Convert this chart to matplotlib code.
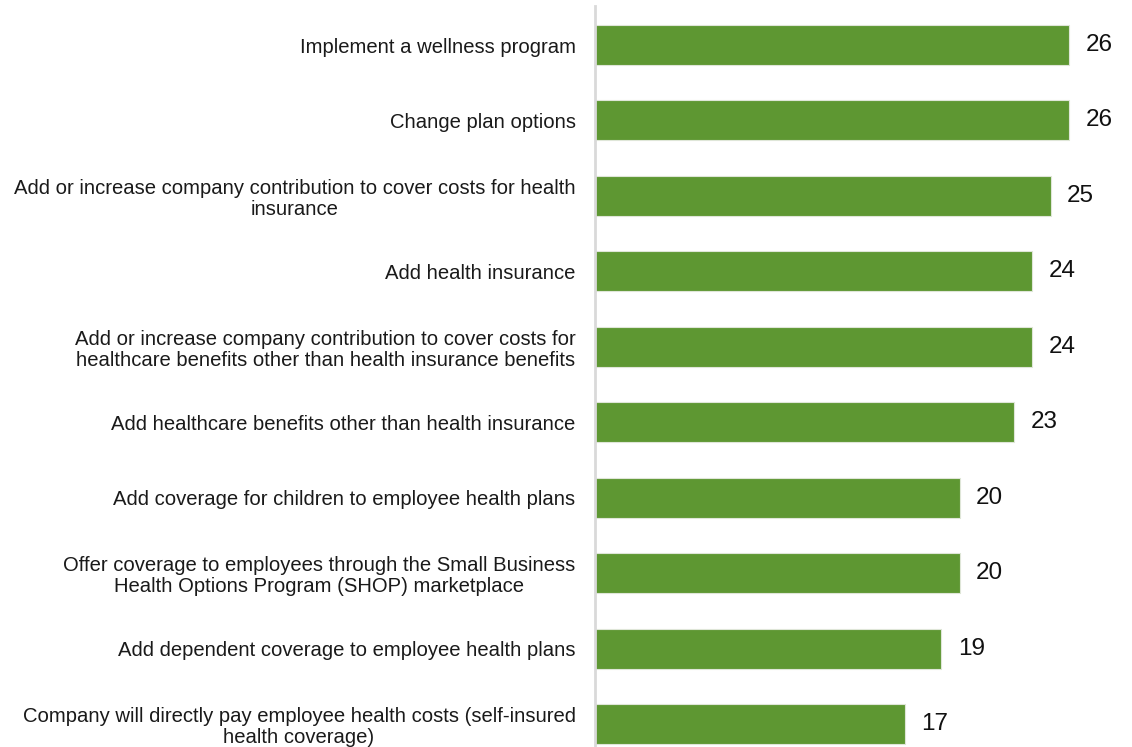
import matplotlib.pyplot as plt

categories = [
    "Implement a wellness program",
    "Change plan options",
    "Add or increase company contribution to cover costs for health\ninsurance",
    "Add health insurance",
    "Add or increase company contribution to cover costs for\nhealthcare benefits other than health insurance benefits",
    "Add healthcare benefits other than health insurance",
    "Add coverage for children to employee health plans",
    "Offer coverage to employees through the Small Business\nHealth Options Program (SHOP) marketplace",
    "Add dependent coverage to employee health plans",
    "Company will directly pay employee health costs (self-insured\nhealth coverage)",
]
values = [26, 26, 25, 24, 24, 23, 20, 20, 19, 17]

fig = plt.figure(figsize=(11.32, 7.47), dpi=100)
ax = fig.add_axes([0.5256, 0.0, 0.4744, 1 - 6 / 747])

pos = list(range(len(values)))
ax.barh(pos, values, height=0.53, color="#5E9732", edgecolor="#dfe6d8", linewidth=0.8, zorder=2)

# value labels to the right of each bar
for p, v in zip(pos, values):
    ax.text(v + 0.9, p, str(v), va="center", ha="left", fontsize=17.5,
            family="Liberation Sans", color="#111111")

ax.set_xlim(0, 29.46)
ax.set_ylim(9.305, -0.517)
ax.set_yticks(pos)
ax.set_yticklabels(categories, fontsize=14.6, family="Liberation Sans", ha="right",
                   multialignment="center", color="#1a1a1a", linespacing=1.12)
ax.tick_params(axis="y", length=0, pad=14)
ax.set_xticks([])

for s in ["top", "right", "bottom"]:
    ax.spines[s].set_visible(False)
ax.spines["left"].set_color("#d9d9d9")
ax.spines["left"].set_linewidth(2)

fig.savefig("out.png", dpi=100)
